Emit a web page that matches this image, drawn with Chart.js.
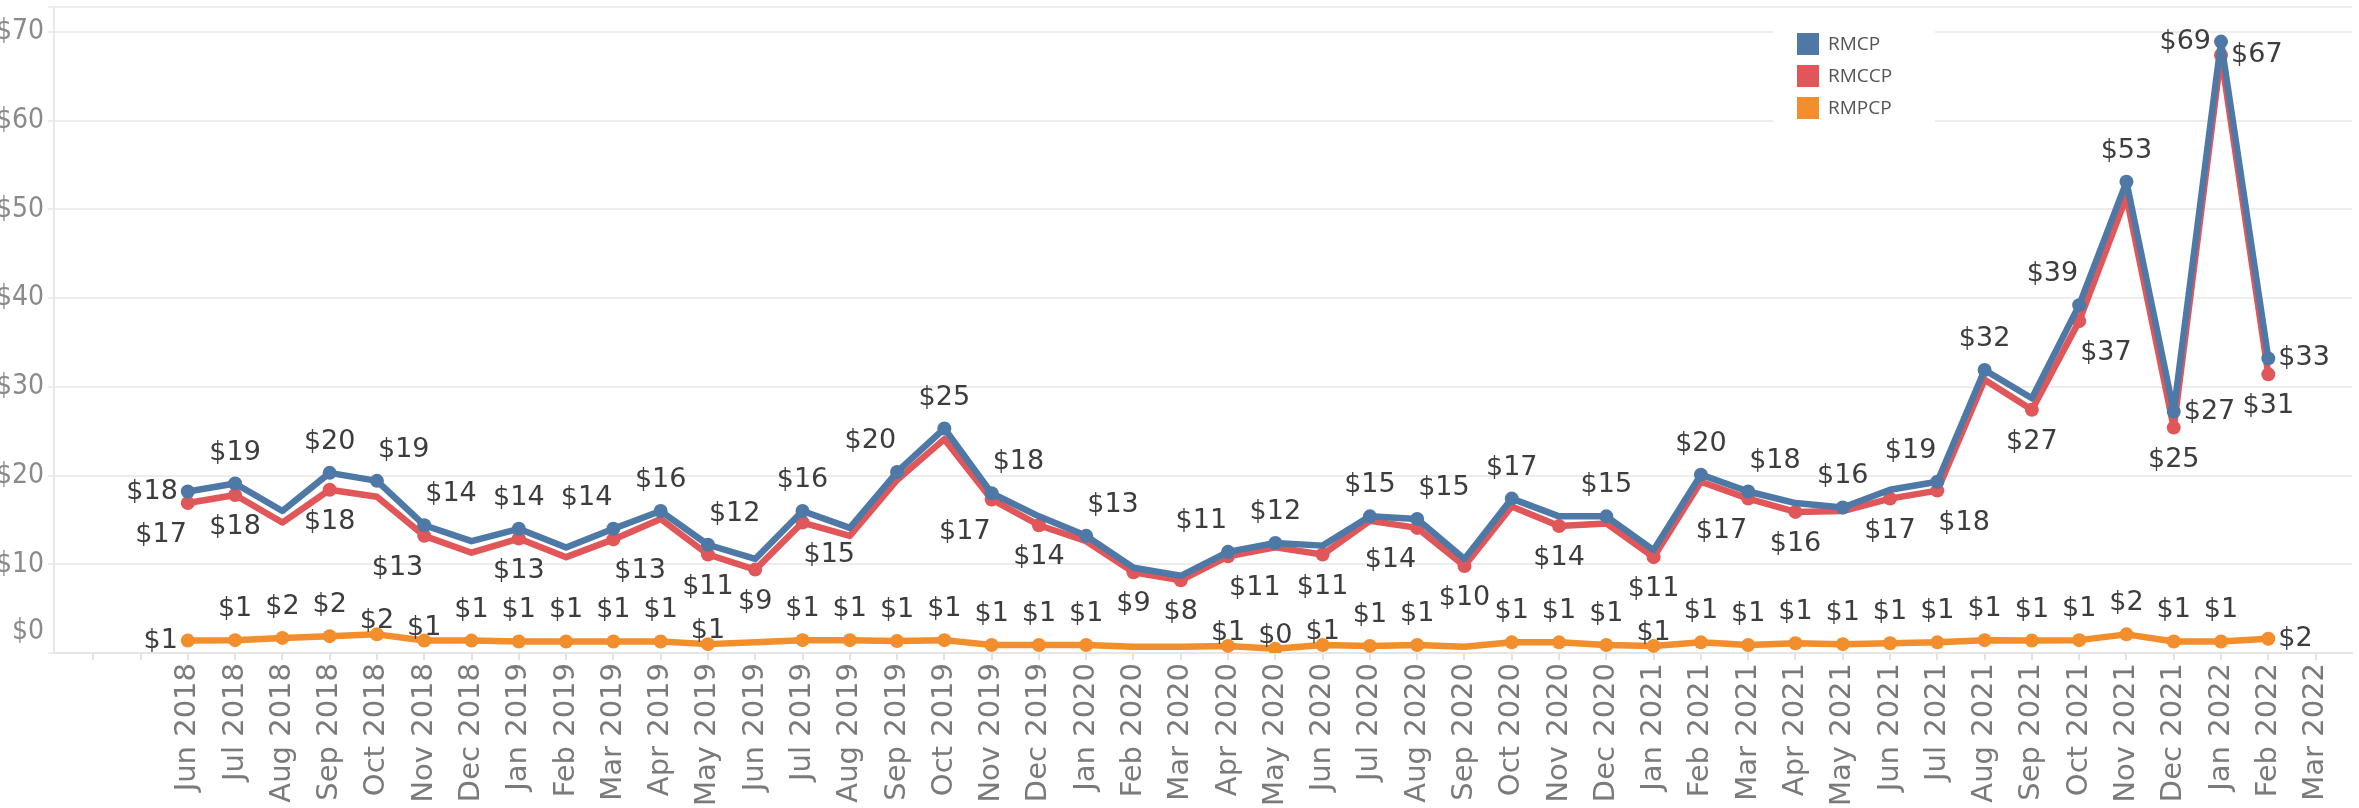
<!DOCTYPE html>
<html>
<head>
<meta charset="utf-8">
<script src="https://cdn.jsdelivr.net/npm/chart.js@4.4.1/dist/chart.umd.min.js"></script>
<style>
  html, body { margin: 0; padding: 0; background: #ffffff; }
  #wrap { width: 2359px; height: 808px; }
</style>
</head>
<body>
<div id="wrap"><canvas id="c" width="2359" height="808"></canvas></div>
<script>
// ---- data ----
const axisMonths = [
  'Jun 2018','Jul 2018','Aug 2018','Sep 2018','Oct 2018','Nov 2018','Dec 2018',
  'Jan 2019','Feb 2019','Mar 2019','Apr 2019','May 2019','Jun 2019','Jul 2019','Aug 2019','Sep 2019','Oct 2019','Nov 2019','Dec 2019',
  'Jan 2020','Feb 2020','Mar 2020','Apr 2020','May 2020','Jun 2020','Jul 2020','Aug 2020','Sep 2020','Oct 2020','Nov 2020','Dec 2020',
  'Jan 2021','Feb 2021','Mar 2021','Apr 2021','May 2021','Jun 2021','Jul 2021','Aug 2021','Sep 2021','Oct 2021','Nov 2021','Dec 2021',
  'Jan 2022','Feb 2022','Mar 2022'
];
const seriesNames = ['RMCP', 'RMCCP', 'RMPCP'];
const rmcp = [
  18.2, 19.1, 16.0, 20.3, 19.4, 14.4, 12.6,
  14.0, 11.9, 14.0, 16.0, 12.2, 10.6, 16.0, 14.1, 20.4, 25.3, 18.0, 15.4,
  13.2, 9.6, 8.7, 11.4, 12.4, 12.1, 15.4, 15.1, 10.6, 17.4, 15.4, 15.4,
  11.6, 20.1, 18.2, 16.9, 16.4, 18.4, 19.3, 31.9, 28.7, 39.2, 53.1, 27.2,
  68.9, 33.2
];
const rmccp = [
  16.9, 17.8, 14.7, 18.4, 17.6, 13.2, 11.3,
  12.9, 10.8, 12.8, 15.1, 11.1, 9.4, 14.7, 13.2, 19.5, 24.1, 17.3, 14.4,
  12.6, 9.1, 8.2, 10.9, 11.9, 11.1, 14.9, 14.1, 9.8, 16.5, 14.3, 14.6,
  10.8, 19.3, 17.4, 15.9, 16.0, 17.4, 18.3, 30.8, 27.4, 37.4, 51.4, 25.4,
  67.4, 31.4
];
const rmpcp = [
  1.4, 1.45, 1.7, 1.9, 2.1, 1.4, 1.4,
  1.3, 1.3, 1.3, 1.3, 1.0, 1.2, 1.45, 1.45, 1.35, 1.45, 0.9, 0.9,
  0.9, 0.7, 0.7, 0.8, 0.48, 0.9, 0.8, 0.9, 0.7, 1.2, 1.2, 0.9,
  0.8, 1.2, 0.9, 1.1, 1.0, 1.1, 1.2, 1.45, 1.4, 1.45, 2.1, 1.3,
  1.3, 1.6
];
const yTickValues = [0, 10, 20, 30, 40, 50, 60, 70];

// ---- label placement (styling, not data) ----
const rmcpLabelPos = ['L','T','','T','TR','TR','','T','','TL','T','TR','','T','','TL','T','TR','','TR','','','TL','T','','T','TR','','T','','T','','T','TR','','T','','TL','T','','TL','T','R','L','R'];
const rmccpLabelPos = ['BL','B','','B','','BL','','B','','BR','','B','B','BR','','','','BL','B','','B','B','BR','','B','','BL','B','','B','','B','','BL','B','','B','BR','','B','BR','','B','R','B'];
const rmpcpLabelPos = ['L','T','T','T','C','C','T','T','T','T','T','C','','T','T','T','T','T','T','T','','','C','C','C','T','T','','T','T','T','C','T','T','T','T','T','T','T','T','T','T','T','T','R'];

const colors = ['#4e79a7', '#e15759', '#f28e2b'];
const labelPositions = [rmcpLabelPos, rmccpLabelPos, rmpcpLabelPos];

function toPoints(arr) { return arr.map((v, i) => ({ x: i, y: v })); }

const labelPlugin = {
  id: 'pointLabels',
  afterDatasetsDraw(chart) {
    const ctx = chart.ctx;
    ctx.save();
    ctx.font = '27px "DejaVu Sans", sans-serif';
    ctx.fillStyle = '#3d3d3d';
    ctx.textBaseline = 'middle';
    chart.data.datasets.forEach((ds, di) => {
      const meta = chart.getDatasetMeta(di);
      const pos = labelPositions[di];
      meta.data.forEach((pt, i) => {
        const code = pos[i];
        if (!code) return;
        const txt = '$' + Math.round(ds.data[i].y);
        const w = ctx.measureText(txt).width;
        let cx = pt.x, cy = pt.y;
        switch (code) {
          case 'T': cy -= 31; break;
          case 'B': cy += 32; break;
          case 'C': cy -= 13; break;
          case 'L': cx = pt.x - 10 - w / 2; break;
          case 'R': cx = pt.x + 10 + w / 2; break;
          case 'TR': cx = pt.x + 1 + w / 2; cy -= 31; break;
          case 'TL': cx = pt.x - 1 - w / 2; cy -= 31; break;
          case 'BR': cx = pt.x + 1 + w / 2; cy += 32; break;
          case 'BL': cx = pt.x - 1 - w / 2; cy += 32; break;
        }
        ctx.textAlign = 'center';
        ctx.fillText(txt, cx, cy);
      });
    });
    ctx.restore();
  }
};

const yLabelPlugin = {
  id: 'yLabels',
  afterDraw(chart) {
    const ctx = chart.ctx;
    const ys = chart.scales.y;
    ctx.save();
    ctx.font = '28px "Liberation Sans Narrow", "DejaVu Sans Condensed", sans-serif';
    ctx.fillStyle = '#8a8a8a';
    ctx.textAlign = 'right';
    ctx.textBaseline = 'middle';
    yTickValues.forEach(v => {
      let py = ys.getPixelForValue(v);
      if (py > chart.chartArea.bottom - 21) py = chart.chartArea.bottom - 21;
      ctx.fillText('$' + v, 44, py);
    });
    ctx.restore();
  }
};

const legendPlugin = {
  id: 'customLegend',
  afterDraw(chart) {
    const ctx = chart.ctx;
    ctx.save();
    ctx.fillStyle = '#ffffff';
    ctx.fillRect(1773, 8, 162, 140);
    ctx.font = '19px "Open Sans", sans-serif';
    ctx.textBaseline = 'middle';
    ctx.textAlign = 'left';
    seriesNames.forEach((name, i) => {
      const top = 33 + i * 32;
      ctx.fillStyle = colors[i];
      ctx.fillRect(1797, top, 22, 22);
      ctx.fillStyle = '#555555';
      ctx.fillText(name, 1828, top + 12);
    });
    ctx.restore();
  }
};

const radiusFor = (pos) => (c) => (pos[c.dataIndex] ? 7 : 0);

new Chart(document.getElementById('c'), {
  type: 'line',
  data: {
    datasets: [rmcp, rmccp, rmpcp].map((arr, di) => ({
      label: seriesNames[di],
      data: toPoints(arr),
      borderColor: colors[di],
      backgroundColor: colors[di],
      borderWidth: 6.5,
      borderJoinStyle: 'round',
      borderCapStyle: 'round',
      pointRadius: radiusFor(labelPositions[di]),
      pointHoverRadius: radiusFor(labelPositions[di]),
      pointBorderWidth: 0,
      tension: 0,
      fill: false
    }))
  },
  options: {
    responsive: false,
    animation: false,
    layout: { padding: 0 },
    plugins: { legend: { display: false }, tooltip: { enabled: false } },
    scales: {
      x: {
        type: 'linear',
        min: -2.83,
        max: 45.77,
        afterFit(s) { s.height = 155; s.paddingLeft = 0; s.paddingRight = 0; },
        grid: { display: true, drawOnChartArea: false, drawTicks: true, tickLength: 7, color: '#e2e2e2', lineWidth: 2 },
        border: { display: true, color: '#e6e6e6', width: 2 },
        ticks: {
          stepSize: 1,
          autoSkip: false,
          includeBounds: false,
          minRotation: 90,
          maxRotation: 90,
          padding: 3,
          color: '#7a7a7a',
          font: { family: '"DejaVu Sans", sans-serif', size: 29 },
          callback: (v) => (Number.isInteger(v) && v >= 0 && v < axisMonths.length ? axisMonths[v] : '')
        }
      },
      y: {
        min: 0,
        max: 72.8,
        afterFit(s) { s.width = 54; },
        grid: { color: '#ededed', lineWidth: 2, drawTicks: true, tickLength: 6 },
        border: { display: true, color: '#e8e8e8', width: 2 },
        ticks: { display: false, stepSize: 10 }
      }
    }
  },
  plugins: [labelPlugin, yLabelPlugin, legendPlugin]
});
</script>
</body>
</html>
